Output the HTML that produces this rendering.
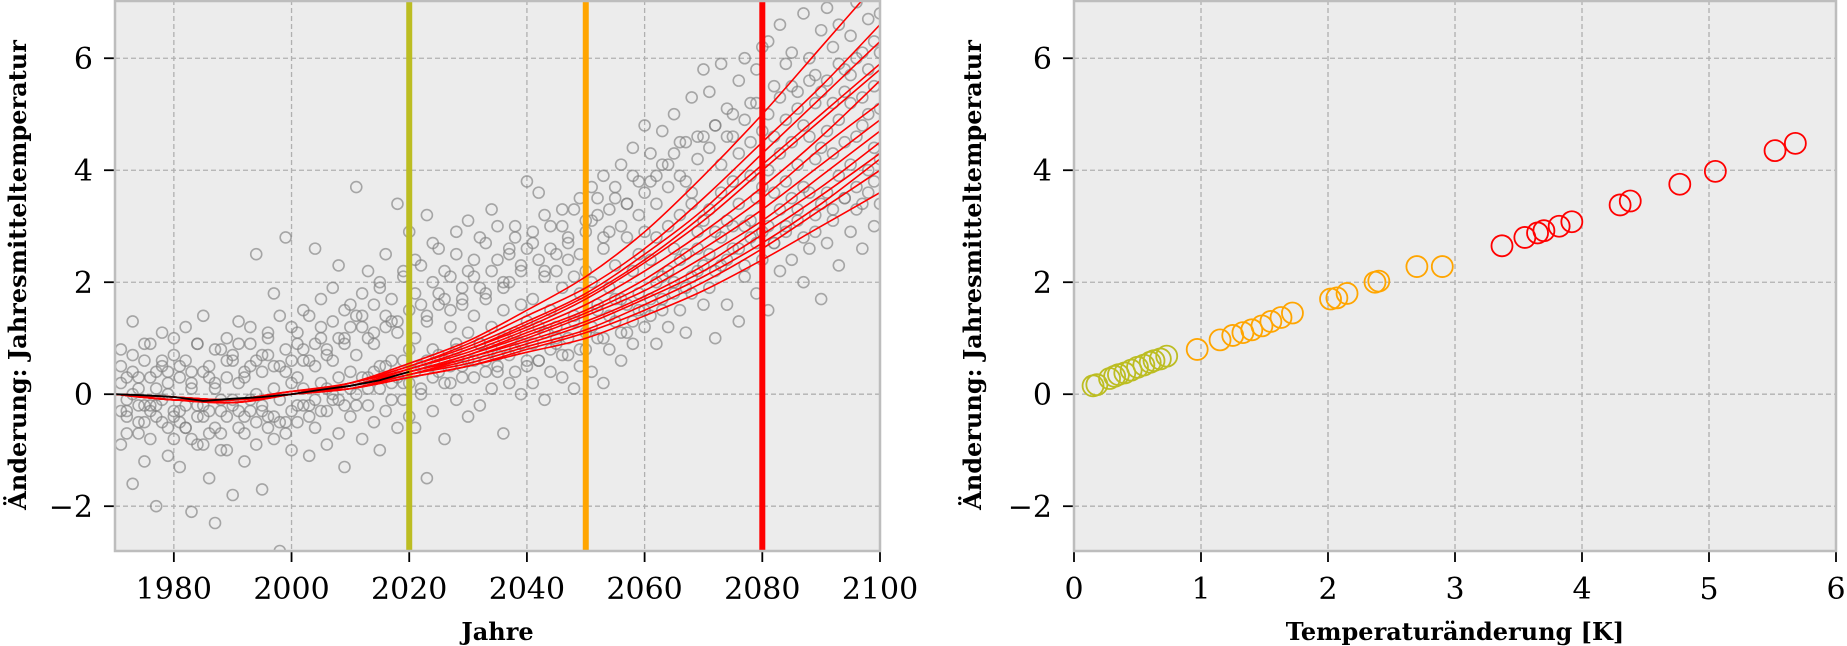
<!DOCTYPE html>
<html><head><meta charset="utf-8">
<style>
body{margin:0;background:#fff;}
svg{display:block;font-family:"DejaVu Serif","Liberation Serif",serif;}
.tick{font-size:30px;fill:#000;}
.lab{font-size:24px;font-weight:bold;fill:#000;}
</style></head>
<body>
<svg id="chart" width="1847" height="646" viewBox="0 0 1847 646" xmlns="http://www.w3.org/2000/svg"></svg>
<script>
// ---------- data ----------
const scatterUpper=[0.8,0.3,1.3,-0.2,0.6,0.9,0.1,1.1,0.4,0.7, 0.5,1.2,0.2,0.9,1.4,0.3,0.8,-0.1,1.0,0.6, 1.3,0.4,0.9,2.5,0.7,1.1,1.8,0.5,2.8,1.2, 0.9,1.5,0.6,2.6,1.2,0.8,1.9,2.3,1.0,1.6, 3.7,1.4,2.2,1.1,1.9,2.5,1.3,3.4,2.1,2.9, 2.4,1.6,3.2,2.7,1.8,2.2,1.5,2.9,1.9,3.1, 2.1,2.8,1.7,3.3,2.4,1.9,2.6,3.0,2.2,3.8, 2.7,3.6,2.2,3.0,2.5,3.3,2.8,2.1,3.5,3.1, 3.7,3.2,3.9,2.9,3.5,4.1,3.4,4.4,3.8,4.8, 4.3,3.9,4.7,4.1,5.0,4.5,3.8,5.3,4.6,5.8, 5.4,4.8,5.9,5.1,4.6,5.6,6.0,5.2,5.8,6.2, 6.3,5.5,6.6,5.9,6.1,5.4,6.8,6.0,5.7,6.5, 6.9,6.2,6.6,5.8,6.4,7.0,6.1,6.7,6.3,6.8];
const scatterLower=[-0.9,-0.4,-1.6,-0.7,-1.2,-0.3,-2.0,-0.5,-1.1,-0.8, -1.3,-0.6,-2.1,-0.9,-0.4,-1.5,-2.3,-0.7,-1.0,-1.8, -0.6,-1.2,-0.3,-0.9,-1.7,-0.4,-0.8,-2.8,-0.5,-1.0, -0.5,-0.2,-1.1,-0.6,-0.3,-0.9,-0.1,-0.7,-1.3,-0.4, -0.2,-0.8,0.1,-0.5,-1.0,-0.3,0.2,-0.6,-0.1,-0.4, -0.6,0.0,-1.5,-0.3,0.4,-0.8,0.2,-0.1,0.5,-0.4, 0.3,-0.2,0.6,0.1,0.4,-0.7,0.2,0.8,0.0,0.5, 0.2,0.6,-0.1,0.4,0.9,0.3,0.7,0.1,0.5,0.8, 0.4,1.0,0.2,0.8,1.3,0.6,1.1,0.9,1.5,1.2, 1.4,0.9,1.7,1.2,2.0,1.5,1.1,1.8,2.2,1.6, 1.9,1.0,2.3,1.6,2.6,1.3,2.1,2.8,1.8,2.4, 1.5,2.7,2.2,3.0,2.4,3.3,2.0,2.6,2.9,1.7, 2.7,3.1,2.3,3.5,2.9,3.3,2.6,3.6,3.0,3.4];
const scatterMid=[0.2,-0.3,0.4,0.1,-0.5,0.3,-0.2,0.5,0.0,-0.4, 0.3,-0.6,0.1,-0.2,0.4,-0.7,0.2,-0.3,0.6,-0.1, 0.2,-0.4,0.5,0.0,-0.3,0.7,0.1,-0.5,0.4,0.2, 0.3,0.8,-0.2,0.5,1.0,0.1,0.6,-0.1,0.9,0.4, 0.7,1.2,0.3,0.9,0.5,1.4,0.6,1.1,0.2,0.8, 1.0,0.5,1.3,0.8,1.6,0.6,1.2,0.9,1.7,1.1, 1.4,0.9,1.8,1.2,0.7,1.5,2.0,1.1,1.6,1.3, 1.7,1.2,2.1,1.5,1.0,1.9,2.4,1.4,1.8,2.2, 2.0,1.6,2.6,1.9,2.3,1.7,2.8,2.2,2.5,2.9, 2.4,2.8,2.1,3.0,2.6,3.2,2.5,3.4,2.9,3.1, 3.3,2.9,3.6,3.1,3.8,3.4,3.0,3.9,3.5,3.7, 4.0,3.6,4.3,3.8,4.5,4.1,3.7,4.6,4.2,4.4, 4.7,4.3,4.9,4.5,5.2,4.6,4.8,5.0,4.4,5.1];
const scatterA=[0.5,-0.1,0.7,0.3,0.9,-0.2,0.4,0.6,0.2,1.0, -0.3,0.6,0.4,0.9,-0.2,0.5,0.1,0.8,0.3,0.7, 0.9,0.3,1.2,0.6,0.4,1.0,0.5,1.4,0.8,0.6, 1.1,0.6,1.4,0.9,1.7,0.7,1.3,1.0,1.5,1.2, 1.4,1.8,1.0,1.6,2.0,1.2,1.7,1.3,2.2,1.5, 1.8,2.3,1.4,2.0,2.6,1.7,2.1,2.5,1.6,2.2, 2.4,1.9,2.7,2.2,3.0,2.0,2.5,2.8,2.3,2.6, 2.9,2.4,3.2,2.6,2.2,3.0,2.7,3.3,2.5,2.9, 3.1,3.5,2.8,3.3,3.7,3.0,3.4,3.9,3.2,3.6, 3.8,3.4,4.1,3.7,4.3,3.9,4.5,3.6,4.2,4.6, 4.4,4.8,4.1,4.6,5.0,4.3,4.9,4.5,5.2,4.7, 5.0,4.6,5.3,4.9,5.5,5.1,4.8,5.6,5.2,5.4, 5.6,5.2,5.9,5.4,5.7,6.0,5.3,5.8,5.5,6.1];
const scatterB=[-0.3,-0.7,0.0,-0.5,-0.2,-0.8,-0.4,-0.1,-0.6,-0.3, -0.5,-0.2,-0.8,-0.4,-0.9,-0.3,-0.6,-1.0,-0.4,-0.2, -0.3,-0.7,-0.1,-0.5,-0.2,-0.6,-0.4,-0.1,-0.7,-0.3, -0.2,0.1,-0.4,-0.1,0.2,-0.3,0.0,0.3,-0.2,0.1, 0.0,0.3,-0.2,0.4,0.1,0.5,-0.1,0.3,0.6,0.2, 0.4,0.1,0.6,0.3,0.7,0.2,0.5,0.8,0.3,0.6, 0.6,0.9,0.4,0.8,0.5,1.0,0.7,0.4,0.9,0.6, 0.9,0.6,1.1,0.8,1.2,0.7,1.0,1.3,0.8,1.1, 1.2,1.5,1.0,1.4,1.7,1.1,1.6,1.3,1.8,1.5, 1.7,2.0,1.5,2.2,1.8,2.4,1.9,2.1,2.6,2.3, 2.5,2.2,2.8,2.4,3.0,2.6,2.3,3.1,2.7,2.9, 3.0,2.7,3.3,2.9,3.5,3.1,2.8,3.6,3.2,3.4, 3.6,3.3,3.9,3.5,4.1,3.7,3.4,4.0,3.8,4.2];
const scatterStartYear=1971;
const modelYears=[1970,1980,1990,2000,2010,2020,2030,2040,2050,2060,2070,2080,2090,2100];
const model1=[0,-0.1,-0.1,0,0.2,0.55,0.95,1.5,2.1,2.9,3.9,5.0,6.2,7.4];
const model2=[0,-0.05,-0.15,0,0.2,0.5,0.9,1.4,1.9,2.6,3.5,4.5,5.5,6.6];
const model3=[0,-0.1,-0.1,0.05,0.2,0.5,0.85,1.3,1.8,2.5,3.3,4.3,5.3,6.3];
const model4=[0,-0.05,-0.1,0,0.2,0.45,0.8,1.2,1.7,2.35,3.1,4.0,4.9,5.8];
const model5=[0,-0.1,-0.15,0,0.15,0.45,0.75,1.15,1.6,2.2,2.9,3.7,4.6,5.6];
const model6=[0,-0.05,-0.1,0,0.15,0.4,0.7,1.1,1.5,2.05,2.75,3.5,4.4,5.2];
const model7=[0,-0.1,-0.1,0.05,0.15,0.4,0.7,1.05,1.45,1.95,2.6,3.3,4.1,4.9];
const model8=[0,-0.05,-0.15,0,0.15,0.4,0.65,1.0,1.4,1.85,2.45,3.1,3.9,4.7];
const model9=[0,-0.1,-0.1,0,0.15,0.35,0.65,0.95,1.3,1.75,2.3,3.0,3.7,4.5];
const model10=[0,-0.05,-0.1,0,0.1,0.35,0.6,0.9,1.25,1.7,2.2,2.85,3.55,4.3];
const model11=[0,-0.1,-0.15,0,0.1,0.35,0.55,0.85,1.15,1.6,2.1,2.7,3.4,4.2];
const model12=[0,-0.05,-0.1,0,0.1,0.3,0.5,0.8,1.1,1.5,2.0,2.6,3.3,4.0];
const model13=[0,-0.1,-0.1,0.05,0.1,0.3,0.5,0.75,1.0,1.4,1.85,2.4,3.0,3.6];
const model14=[0,-0.05,-0.1,0,0.15,0.45,0.8,1.25,1.75,2.4,3.2,4.1,5.0,5.9];
const obsYears=[1970,1975,1980,1985,1990,1995,2000,2005,2010,2015,2020];
const obsValues=[0,-0.02,-0.05,-0.12,-0.08,-0.05,0,0.08,0.15,0.25,0.4];
const markerYears=[2020,2050,2080];
const markerColors=["#bcbd22","#ffa500","#ff0000"];
const rightX=[0.15,0.18,0.28,0.32,0.35,0.4,0.45,0.5,0.55,0.6,0.63,0.68,0.73, 0.97,1.15,1.25,1.33,1.4,1.48,1.55,1.63,1.72,2.02,2.07,2.15,2.37,2.4,2.7,2.9, 3.37,3.55,3.65,3.7,3.82,3.92,4.3,4.38,4.77,5.05,5.52,5.68];
const rightY=[0.15,0.17,0.28,0.32,0.35,0.38,0.43,0.48,0.52,0.57,0.6,0.63,0.68, 0.8,0.97,1.05,1.1,1.15,1.22,1.3,1.37,1.45,1.7,1.72,1.8,2.0,2.02,2.28,2.28, 2.65,2.8,2.88,2.92,3.0,3.08,3.38,3.45,3.75,3.98,4.35,4.48];
const rightGroup=[0,0,0,0,0,0,0,0,0,0,0,0,0, 1,1,1,1,1,1,1,1,1,1,1,1,1,1,1,1, 2,2,2,2,2,2,2,2,2,2,2,2];
const leftXTicks=[1980,2000,2020,2040,2060,2080,2100];
const rightXTicks=[0,1,2,3,4,5,6];
const yTicks=[-2,0,2,4,6];

// ---------- helpers ----------
const NS="http://www.w3.org/2000/svg";
const svg=document.getElementById('chart');
function mk(tag,attrs,parent){const e=document.createElementNS(NS,tag);for(const k in attrs)e.setAttribute(k,attrs[k]);(parent||svg).appendChild(e);return e;}
const TOP=0,BOT=551;
const yMin=-2.8,yMax=7.04;
function Y(v){return BOT-(v-yMin)/(yMax-yMin)*(BOT-TOP);}
const L={x0:115,x1:880,d0:1970,d1:2100};
const R={x0:1074,x1:1836,d0:0,d1:6};
function XL(v){return L.x0+(v-L.d0)/(L.d1-L.d0)*(L.x1-L.x0);}
function XR(v){return R.x0+(v-R.d0)/(R.d1-R.d0)*(R.x1-R.x0);}

function axesFrame(P,X,xticks,name){
  const g=mk('g',{});
  
  
  const bg=mk('rect',{x:P.x0,y:TOP,width:P.x1-P.x0,height:BOT-TOP,fill:'#ececec'},g);
  
  
  xticks.forEach(t=>{
    const x=X(t);
    const gl=mk('line',{x1:x,x2:x,y1:TOP,y2:BOT,stroke:'#b0b0b0','stroke-width':1.3,'stroke-dasharray':'5,3'},g);
    
    
    const tk=mk('line',{x1:x,x2:x,y1:BOT,y2:BOT+11,stroke:'#000','stroke-width':1.8},g);
    
    
    const tx=mk('text',{x:x,y:BOT+48,'text-anchor':'middle',class:'tick'},g);
    tx.textContent=String(t);
    
    
  });
  yTicks.forEach(t=>{
    const y=Y(t);
    const gl=mk('line',{x1:P.x0,x2:P.x1,y1:y,y2:y,stroke:'#b0b0b0','stroke-width':1.3,'stroke-dasharray':'5,3'},g);
    
    
    const tk=mk('line',{x1:P.x0-11,x2:P.x0,y1:y,y2:y,stroke:'#000','stroke-width':1.8},g);
    
    
    const tx=mk('text',{x:P.x0-22,y:y+11,'text-anchor':'end',class:'tick'},g);
    tx.textContent=(t<0?'\u2212':'')+Math.abs(t);
    
    
  });
  return g;
}
function spines(P,name){
  const s=mk('rect',{x:P.x0,y:TOP+1,width:P.x1-P.x0,height:BOT-TOP-1,fill:'none',stroke:'#bdbdbd','stroke-width':2.5});
  
  
}
function smoothPath(xs,ys){
  let d='M'+xs[0]+','+ys[0];
  for(let i=0;i<xs.length-1;i++){
    const x0=xs[Math.max(0,i-1)],y0=ys[Math.max(0,i-1)];
    const x3=xs[Math.min(xs.length-1,i+2)],y3=ys[Math.min(xs.length-1,i+2)];
    const c1x=xs[i]+(xs[i+1]-x0)/6,c1y=ys[i]+(ys[i+1]-y0)/6;
    const c2x=xs[i+1]-(x3-xs[i])/6,c2y=ys[i+1]-(y3-ys[i])/6;
    d+=' C'+c1x+','+c1y+' '+c2x+','+c2y+' '+xs[i+1]+','+ys[i+1];
  }
  return d;
}

// ---------- left chart ----------
axesFrame(L,XL,leftXTicks,'left');
const clipL=mk('clipPath',{id:'clipL'});
mk('rect',{x:L.x0,y:TOP,width:L.x1-L.x0,height:BOT-TOP},clipL);
const lp=mk('g',{'clip-path':'url(#clipL)'});


[scatterUpper,scatterLower,scatterMid,scatterA,scatterB].forEach(arr=>{
  arr.forEach((v,i)=>{
    const c=mk('circle',{cx:XL(scatterStartYear+i),cy:Y(v),r:5.5,fill:'none',stroke:'#808080','stroke-opacity':0.65,'stroke-width':1.6},lp);
    
    
  });
});
markerYears.forEach((yr,i)=>{
  const l=mk('line',{x1:XL(yr),x2:XL(yr),y1:TOP,y2:BOT,stroke:markerColors[i],'stroke-width':6},lp);
  
  
});
const models=[model1,model2,model3,model4,model5,model6,model7,model8,model9,model10,model11,model12,model13,model14];
models.forEach((m,k)=>{
  const p=mk('path',{d:smoothPath(modelYears.map(XL),m.map(Y)),fill:'none',stroke:'#ff0000','stroke-width':1.6},lp);
  
  
});
const obs=mk('path',{d:'M'+obsYears.map((y,i)=>XL(y)+','+Y(obsValues[i])).join(' L'),fill:'none',stroke:'#000','stroke-width':1.8},lp);


spines(L,'left');

// ---------- right chart ----------
axesFrame(R,XR,rightXTicks,'right');
const rp=mk('g',{});


rightX.forEach((x,i)=>{
  const c=mk('circle',{cx:XR(x),cy:Y(rightY[i]),r:10.5,fill:'none',stroke:markerColors[rightGroup[i]],'stroke-width':1.8},rp);
  
  
});
spines(R,'right');

// ---------- labels ----------
const xl1=mk('text',{x:(L.x0+L.x1)/2,y:640,'text-anchor':'middle',class:'lab'});
xl1.textContent='Jahre';


const xl2=mk('text',{x:(R.x0+R.x1)/2,y:640,'text-anchor':'middle',class:'lab'});
xl2.textContent='Temperaturänderung [K]';


const yl1=mk('text',{x:0,y:0,'text-anchor':'middle',class:'lab',transform:'translate(26,275) rotate(-90)'});
yl1.textContent='Änderung: Jahresmitteltemperatur';


const yl2=mk('text',{x:0,y:0,'text-anchor':'middle',class:'lab',transform:'translate(981,275) rotate(-90)'});
yl2.textContent='Änderung: Jahresmitteltemperatur';


</script>
</body></html>
